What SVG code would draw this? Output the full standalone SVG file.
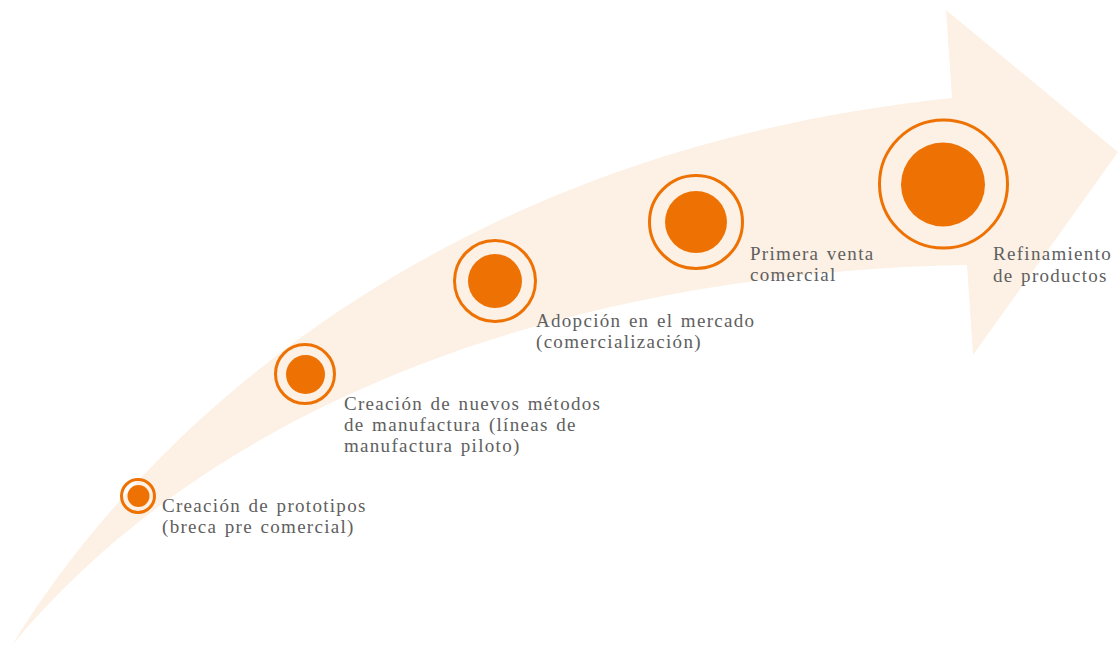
<svg xmlns="http://www.w3.org/2000/svg" width="1118" height="646" viewBox="0 0 1118 646">
<style>
.band{fill:#FDF0E4;stroke:none}
.ring{fill:none;stroke:#EE7203;stroke-width:3}
.dot{fill:#EE7203}
.lbl{font-family:"Liberation Serif","DejaVu Serif",serif;font-size:19px;letter-spacing:1.3px;word-spacing:1.5px;fill:#606060}
</style>
<rect width="1118" height="646" fill="#ffffff"/>
<g id="connectors">
<path class="band" d="M12,645 C150,420 450,150 952,98 L946,10 L1118,152 L973,355 L967,265 C650,270 250,360 12,645 Z"/>
</g>
<g id="node1">
<circle class="ring" cx="138" cy="496" r="16.5"/>
<circle class="dot" cx="138.5" cy="496" r="11"/>
<text class="lbl" x="162" y="512">Creación de prototipos</text>
<text class="lbl" x="162" y="533">(breca pre comercial)</text>
</g>
<g id="node2">
<circle class="ring" cx="305" cy="374" r="29.5"/>
<circle class="dot" cx="305.5" cy="374.5" r="19.5"/>
<text class="lbl" x="344" y="410">Creación de nuevos métodos</text>
<text class="lbl" x="344" y="431">de manufactura (líneas de</text>
<text class="lbl" x="344" y="452">manufactura piloto)</text>
</g>
<g id="node3">
<circle class="ring" cx="495" cy="281" r="40.5"/>
<circle class="dot" cx="495" cy="281" r="27"/>
<text class="lbl" x="536" y="327">Adopción en el mercado</text>
<text class="lbl" x="536" y="348">(comercialización)</text>
</g>
<g id="node4">
<circle class="ring" cx="696" cy="222" r="46.5"/>
<circle class="dot" cx="696" cy="222" r="31"/>
<text class="lbl" x="750" y="260">Primera venta</text>
<text class="lbl" x="750" y="281">comercial</text>
</g>
<g id="node5">
<circle class="ring" cx="943.5" cy="184" r="64"/>
<circle class="dot" cx="943" cy="184.5" r="42"/>
<text class="lbl" x="993" y="260">Refinamiento</text>
<text class="lbl" x="993" y="282">de productos</text>
</g>
</svg>
